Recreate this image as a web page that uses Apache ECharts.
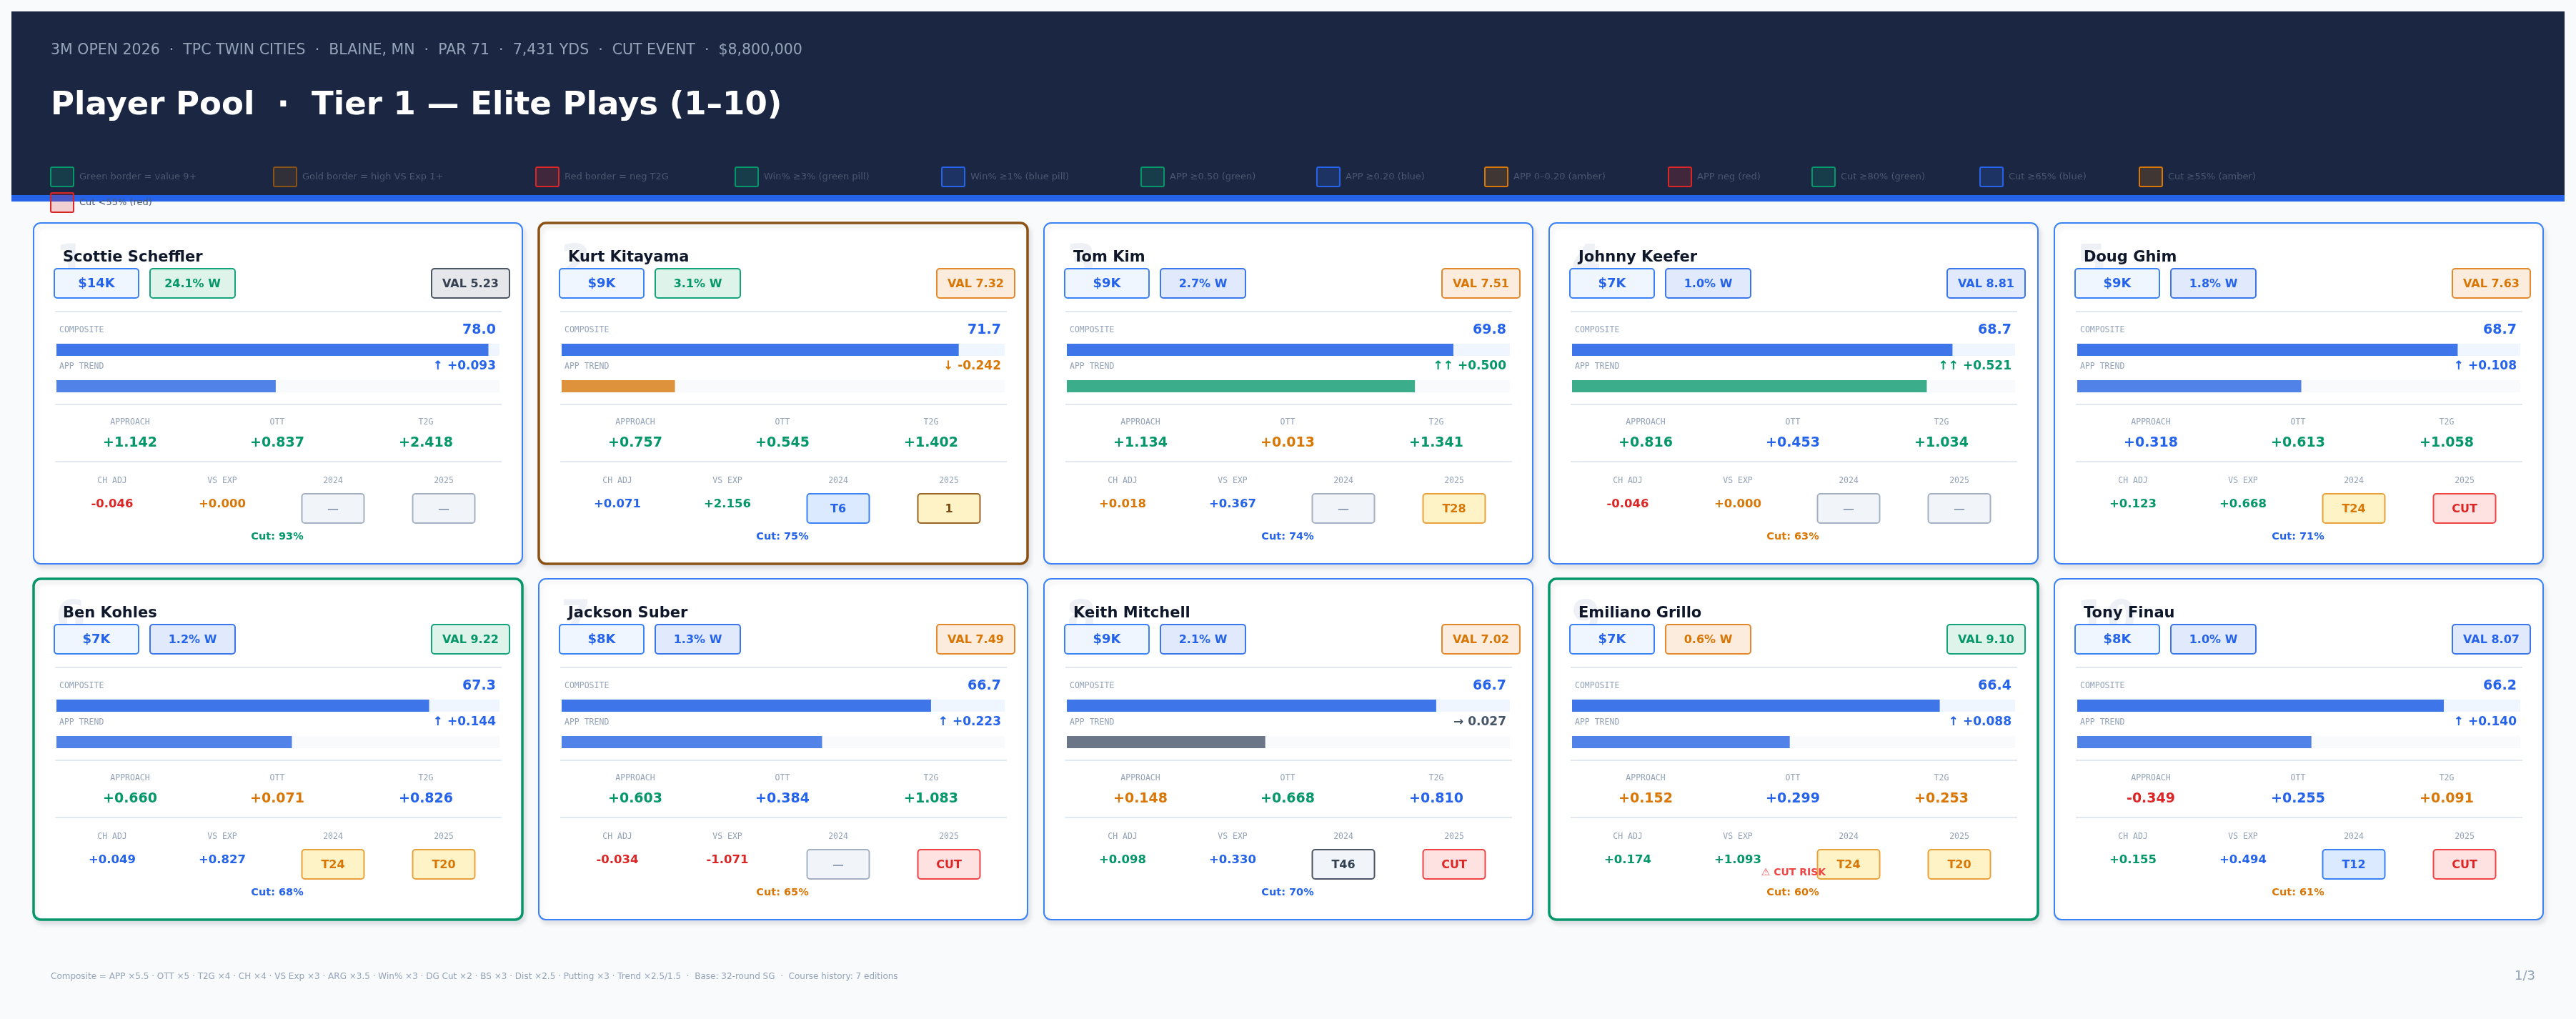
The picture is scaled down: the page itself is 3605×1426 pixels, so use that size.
<!DOCTYPE html>
<html><head><meta charset="utf-8">
<script src="https://cdn.jsdelivr.net/npm/echarts@6/dist/echarts.min.js"></script>
<style>html,body{margin:0;padding:0;background:#f8fafc}#c{width:3605px;height:1426px}</style>
</head><body><div id="c"></div>
<script>
// ---------- DATA ----------
const players   = ['Scottie Scheffler','Kurt Kitayama','Tom Kim','Johnny Keefer','Doug Ghim','Ben Kohles','Jackson Suber','Keith Mitchell','Emiliano Grillo','Tony Finau'];
const salary    = ['$14K','$9K','$9K','$7K','$9K','$7K','$8K','$9K','$7K','$8K'];
const winPct    = [24.1, 3.1, 2.7, 1.0, 1.8, 1.2, 1.3, 2.1, 0.6, 1.0];
const valueScore= [5.23, 7.32, 7.51, 8.81, 7.63, 9.22, 7.49, 7.02, 9.10, 8.07];
const composite = [78.0, 71.7, 69.8, 68.7, 68.7, 67.3, 66.7, 66.7, 66.4, 66.2];
const appTrend  = [0.093, -0.242, 0.500, 0.521, 0.108, 0.144, 0.223, 0.027, 0.088, 0.140];
const approach  = [1.142, 0.757, 1.134, 0.816, 0.318, 0.660, 0.603, 0.148, 0.152, -0.349];
const ott       = [0.837, 0.545, 0.013, 0.453, 0.613, 0.071, 0.384, 0.668, 0.299, 0.255];
const t2g       = [2.418, 1.402, 1.341, 1.034, 1.058, 0.826, 1.083, 0.810, 0.253, 0.091];
const chAdj     = [-0.046, 0.071, 0.018, -0.046, 0.123, 0.049, -0.034, 0.098, 0.174, 0.155];
const vsExp     = [0.000, 2.156, 0.367, 0.000, 0.668, 0.827, -1.071, 0.330, 1.093, 0.494];
const vsExpTone = ['amber','green','blue','amber','green','blue','red','blue','green','blue'];
const finish2024= ['—','T6','—','—','T24','T24','—','T46','T24','T12'];
const finish2025= ['—','1','T28','—','CUT','T20','CUT','CUT','T20','CUT'];
const cutPct    = [93, 75, 74, 63, 71, 68, 65, 70, 60, 61];
const cutRisk   = [false,false,false,false,false,false,false,false,true,false];
const compositeRange = [0, 80];
const trendRange = [-0.6, 0.8];
const statLabels = ['APPROACH','OTT','T2G'];
const bottomLabels = ['CH ADJ','VS EXP','2024','2025'];
const legendLabels = ['Green border = value 9+','Gold border = high VS Exp 1+','Red border = neg T2G','Win% ≥3% (green pill)','Win% ≥1% (blue pill)','APP ≥0.50 (green)','APP ≥0.20 (blue)','APP 0–0.20 (amber)','APP neg (red)','Cut ≥80% (green)','Cut ≥65% (blue)','Cut ≥55% (amber)','Cut <55% (red)'];
const legendTones  = ['green','gold','red','green','blue','green','blue','amber','red','green','blue','amber','red'];
const subtitle = '3M OPEN 2026  ·  TPC TWIN CITIES  ·  BLAINE, MN  ·  PAR 71  ·  7,431 YDS  ·  CUT EVENT  ·  $8,800,000';
const title = 'Player Pool  ·  Tier 1 — Elite Plays (1–10)';
const footer = 'Composite = APP ×5.5 · OTT ×5 · T2G ×4 · CH ×4 · VS Exp ×3 · ARG ×3.5 · Win% ×3 · DG Cut ×2 · BS ×3 · Dist ×2.5 · Putting ×3 · Trend ×2.5/1.5  ·  Base: 32-round SG  ·  Course history: 7 editions';
const pageLabel = '1/3';

// ---------- LAYOUT / STYLE ----------
const F = 'DejaVu Sans', M = 'DejaVu Sans Mono';
const NAVY = '#1b2742';
const CX = [47, 754, 1461, 2168, 2875], CY = [312, 810], W = 684, H = 477;
const LEG_X = [70,382,749,1028,1317,1596,1842,2077,2334,2535,2770,2993,70];
const LEG_ROW = [0,0,0,0,0,0,0,0,0,0,0,0,1];
const TXT = {green:'#059669', blue:'#2563eb', amber:'#d97706', red:'#dc2626', gray:'#475569'};
const SW  = {green:'#059669', gold:'#8b5215', red:'#dc2626', blue:'#2563eb', amber:'#d97706'};
const PILL = {
  salary:{text:'#2563eb', fill:'#eff6ff', stroke:'#3b82f6'},
  green:{text:'#059669', fill:'#def3ea', stroke:'#14a37b'},
  blue:{text:'#2563eb', fill:'#e1eafd', stroke:'#3b76ea'},
  amber:{text:'#d97706', fill:'#fbecdd', stroke:'#e3892c'},
  gray:{text:'#374151', fill:'#e5e7eb', stroke:'#4b5563'},
  dash:{text:'#94a3b8', fill:'#f1f5f9', stroke:'#a5b1c2'},
  yAmber:{text:'#d97706', fill:'#fef3c7', stroke:'#e9a23b'},
  yBlue:{text:'#2563eb', fill:'#dbeafe', stroke:'#3b82f6'},
  yGold:{text:'#7c4a0e', fill:'#fef3c7', stroke:'#9a6426'},
  yRed:{text:'#dc2626', fill:'#fee2e2', stroke:'#ef4444'},
  ySlate:{text:'#334155', fill:'#f1f5f9', stroke:'#4b5563'}
};
function rgba(hex, a){const n=parseInt(hex.slice(1),16);return 'rgba('+(n>>16)+','+((n>>8)&255)+','+(n&255)+','+a+')';}

// tone rules
const winTone = v => v>=3?'green':v>=1?'blue':'amber';
const valTone = v => v>=9?'green':v>=8?'blue':v>=7?'amber':'gray';
const sgTone  = v => v>=0.5?'green':v>=0.2?'blue':v>=0?'amber':'red';
const t2gTone = v => v>=1?'green':v>=0.5?'blue':v>=0?'amber':'red';
const chTone  = v => v>=0.08?'green':v>=0.03?'blue':v>=0?'amber':'red';
const cutTone = v => v>=80?'green':v>=66?'blue':v>=55?'amber':'red';
function trendStyle(v){
  if (v>=0.5) return {arrow:'↑↑', c:TXT.green, bar:'#3bad8a', sign:true};
  if (v>=0.05) return {arrow:'↑', c:TXT.blue, bar:'#5182e8', sign:true};
  if (v>-0.05) return {arrow:'→', c:'#475569', bar:'#6b7788', sign:false};
  return {arrow:'↓', c:TXT.amber, bar:'#de923b', sign:true};
}
function yearTone(s){
  if (s==='—') return 'dash';
  if (s==='CUT') return 'yRed';
  const n = parseInt(s.replace('T',''),10);
  if (n===1) return 'yGold';
  if (n<=15) return 'yBlue';
  if (n<=30) return 'yAmber';
  return 'ySlate';
}
const fmt = v => (v>=0?'+':'-')+Math.abs(v).toFixed(3);

function T(x,y,s,font,fill,align,va){
  return {type:'text', silent:true, style:{x:x,y:y,text:s,font:font,fill:fill,align:align||'left',textAlign:align||'left',verticalAlign:va||'middle',textVerticalAlign:va||'middle'}};
}
function R(x,y,w,h,fill,stroke,lw,r){
  return {type:'rect', silent:true, shape:{x:x,y:y,width:w,height:h,r:r||0}, style:{fill:fill,stroke:stroke||null,lineWidth:lw||0}};
}
function L(x1,y1,x2,y2,c,w){return {type:'line', silent:true, shape:{x1:x1,y1:y1,x2:x2,y2:y2}, style:{stroke:c,lineWidth:w}};}
function pill(G,x,y,w,h,s,tone,font){
  const p = PILL[tone];
  G.push(R(x,y,w,h,p.fill,p.stroke,2,4));
  G.push(T(x+w/2,y+h/2+1,s,font,p.text,'center'));
}

const G = [];
// header
G.push(R(16,16,3573,257,NAVY));
G.push(R(16,273,3573,9,'#2563eb'));
G.push(T(71,71,subtitle,'20.5px '+F,'#94a3b8'));
G.push(T(71,148,title,'bold 45px '+F,'#ffffff'));
legendLabels.forEach(function(lab,i){
  const x = LEG_X[i], y = LEG_ROW[i]===0?233:269;
  const c = SW[legendTones[i]];
  G.push(R(x+1,y+1,32,27,rgba(c,0.2),c,2,2));
  G.push(T(x+41,y+15,lab,'13px '+F,'#4b5870'));
});
// footer
G.push(T(71,1367,footer,'12px '+F,'#94a3b8'));
G.push(T(3548,1366,pageLabel,'18px '+F,'#94a3b8','right'));

const grids=[], xAxes=[], yAxes=[], series=[];
function addBar(x,y,value,range,color,track){
  const gi = grids.length;
  grids.push({left:x, top:y, width:620, height:17, containLabel:false, outerBoundsMode:'none'});
  xAxes.push({gridIndex:gi, type:'value', min:range[0], max:range[1], show:false});
  yAxes.push({gridIndex:gi, type:'category', data:['v'], show:false});
  series.push({type:'custom', xAxisIndex:gi, yAxisIndex:gi, silent:true, data:[[value,0]],
    renderItem:function(params, api){
      const v = api.value(0);
      const a = api.coord([range[0],0]), b = api.coord([v,0]), c = api.coord([range[1],0]);
      const cs = params.coordSys;
      return {type:'group', children:[
        {type:'rect', shape:{x:a[0], y:cs.y, width:c[0]-a[0], height:cs.height}, style:{fill:track}},
        {type:'rect', shape:{x:a[0], y:cs.y, width:b[0]-a[0], height:cs.height}, style:{fill:color}}
      ]};
    }});
}

players.forEach(function(name,i){
  const x0 = CX[i%5], y0 = CY[Math.floor(i/5)];
  let bc='#3b82f6', bw=2;
  if (valueScore[i]>=9){bc='#059669'; bw=3.5;}
  else if (vsExp[i]>=1){bc='#8b5215'; bw=3.5;}
  else if (t2g[i]<0){bc='#dc2626'; bw=3.5;}
  G.push({type:'rect', silent:true, shape:{x:x0,y:y0,width:W,height:H,r:10},
    style:{fill:'#ffffff', stroke:bc, lineWidth:bw, shadowBlur:6, shadowOffsetX:3, shadowOffsetY:5, shadowColor:'rgba(15,23,42,0.10)'}});
  G.push(T(x0+31,y0+27,String(i+1),'bold 60px '+F,'#edf0f4','left','top'));
  G.push(T(x0+41,y0+49,name,'bold 21px '+F,'#0f172a'));
  pill(G,x0+29,y0+64,118,41,salary[i],'salary','bold 18px '+F);
  pill(G,x0+163,y0+64,119,41,winPct[i].toFixed(1)+'% W',winTone(winPct[i]),'bold 16px '+F);
  pill(G,x0+557,y0+64,109,41,'VAL '+valueScore[i].toFixed(2),valTone(valueScore[i]),'bold 16px '+F);
  G.push(L(x0+30,y0+124,x0+655,y0+124,'#e2e8f0',2));
  // composite
  G.push(T(x0+36,y0+150,'COMPOSITE','11.5px '+M,'#94a3b8'));
  G.push(T(x0+647,y0+150,composite[i].toFixed(1),'bold 19px '+F,'#2563eb','right'));
  addBar(x0+32,y0+169,composite[i],compositeRange,'#3e75e8','#eff6ff');
  // trend
  const ts = trendStyle(appTrend[i]);
  G.push(T(x0+36,y0+201,'APP TREND','11.5px '+M,'#94a3b8'));
  const tv = ts.sign ? fmt(appTrend[i]) : Math.abs(appTrend[i]).toFixed(3);
  G.push(T(x0+647,y0+201,ts.arrow+' '+tv,'bold 17px '+F,ts.c,'right'));
  addBar(x0+32,y0+220,appTrend[i],trendRange,ts.bar,'#f8fafc');
  G.push(L(x0+30,y0+254,x0+655,y0+254,'#e2e8f0',2));
  // stats
  const sx=[135,341,549];
  const sv=[approach[i],ott[i],t2g[i]];
  const st=[sgTone(approach[i]),sgTone(ott[i]),t2gTone(t2g[i])];
  for (let k=0;k<3;k++){
    G.push(T(x0+sx[k],y0+279,statLabels[k],'11.5px '+M,'#94a3b8','center'));
    G.push(T(x0+sx[k],y0+308,fmt(sv[k]),'bold 19px '+F,TXT[st[k]],'center'));
  }
  G.push(L(x0+30,y0+334,x0+655,y0+334,'#e2e8f0',2));
  // bottom row
  const bx=[110,264,419,574];
  for (let k=0;k<4;k++) G.push(T(x0+bx[k],y0+361,bottomLabels[k],'11.5px '+M,'#94a3b8','center'));
  G.push(T(x0+bx[0],y0+394,fmt(chAdj[i]),'bold 16.5px '+F,TXT[chTone(chAdj[i])],'center'));
  G.push(T(x0+bx[1],y0+394,fmt(vsExp[i]),'bold 16.5px '+F,TXT[vsExpTone[i]],'center'));
  pill(G,x0+bx[2]-43.5,y0+379,87,41,finish2024[i],yearTone(finish2024[i]),'bold 16px '+F);
  pill(G,x0+bx[3]-43.5,y0+379,87,41,finish2025[i],yearTone(finish2025[i]),'bold 16px '+F);
  if (cutRisk[i]) G.push(T(x0+342,y0+411,'⚠ CUT RISK','bold 14px '+F,'#ef4444','center'));
  G.push(T(x0+341,y0+439,'Cut: '+cutPct[i]+'%','bold 14.5px '+F,TXT[cutTone(cutPct[i])],'center'));
});

const chart = echarts.init(document.getElementById('c'), null, {renderer:'canvas', width:3605, height:1426});
chart.setOption({
  animation:false,
  backgroundColor:'#f8fafc',
  grid:grids, xAxis:xAxes, yAxis:yAxes, series:series,
  graphic:{elements:G}
});
</script></body></html>
